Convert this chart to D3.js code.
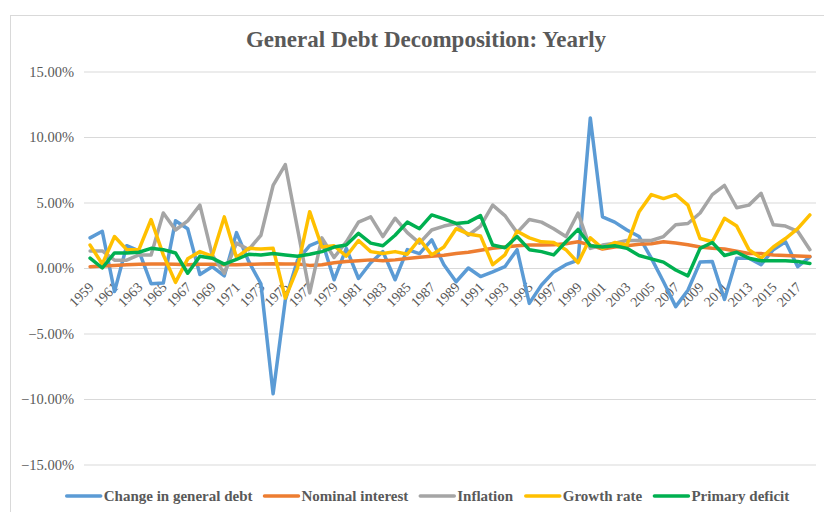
<!DOCTYPE html>
<html>
<head>
<meta charset="utf-8">
<script src="https://cdn.jsdelivr.net/npm/d3@7/dist/d3.min.js"></script>
<style>
body { margin: 0; background: #fff; }
svg text { font-family: "Liberation Serif", "Times New Roman", serif; fill: #595959; }
</style>
</head>
<body>
<svg width="824" height="512"></svg>
<script>
var years = d3.range(1959, 2019);

// values in percent, 1959..2018
var changeDebt = [2.3, 2.8, -1.8, 1.7, 1.3, -1.2, -1.15, 3.6, 3.0, -0.5,
  0.1, -0.6, 2.7, 0.5, -1.2, -9.6, -2.45, 0.6, 1.7, 2.1,
  -0.9, 1.5, -0.8, 0.4, 1.25, -0.9, 1.4, 1.1, 2.15, 0.25,
  -1.05, 0.0, -0.65, -0.3, 0.1, 1.4, -2.7, -1.3, -0.3, 0.25,
  0.6, 11.45, 3.9, 3.5, 2.9, 2.4, 0.75, -1.05, -2.95, -1.7,
  0.45, 0.5, -2.4, 0.75, 0.75, 0.25, 1.4, 2.0, 0.1, 0.85];
var nominalInterest = [0.1, 0.15, 0.2, 0.25, 0.28, 0.3, 0.3, 0.28, 0.25, 0.28,
  0.28, 0.25, 0.25, 0.28, 0.3, 0.32, 0.3, 0.3, 0.2, 0.25,
  0.4, 0.5, 0.55, 0.62, 0.55, 0.62, 0.72, 0.82, 0.9, 0.98,
  1.1, 1.2, 1.35, 1.5, 1.6, 1.7, 1.75, 1.75, 1.78, 1.85,
  2.0, 1.75, 1.45, 1.6, 1.7, 1.82, 1.85, 2.0, 1.9, 1.78,
  1.6, 1.5, 1.45, 1.28, 1.1, 1.1, 1.0, 0.95, 0.92, 0.88];
var inflation = [1.3, 1.3, 0.6, 0.6, 1.0, 1.0, 4.2, 2.9, 3.6, 4.8,
  1.0, -0.4, 1.9, 1.4, 2.5, 6.3, 7.9, 3.0, -1.9, 2.3,
  0.8, 2.0, 3.5, 3.9, 2.4, 3.8, 2.7, 1.9, 2.9, 3.2,
  3.4, 2.5, 3.2, 4.8, 4.0, 2.7, 3.7, 3.5, 3.0, 2.4,
  4.2, 1.5, 1.75, 1.9, 2.1, 2.1, 2.1, 2.4, 3.3, 3.4,
  4.2, 5.6, 6.3, 4.6, 4.8, 5.7, 3.3, 3.2, 2.8, 1.4];
var growthRate = [1.75, 0.3, 2.4, 1.4, 1.4, 3.7, 1.0, -1.1, 0.7, 1.25,
  0.9, 3.9, 0.8, 1.5, 1.45, 1.5, -2.3, 0.0, 4.3, 1.6,
  1.7, 0.9, 2.1, 1.25, 1.1, 1.25, 1.05, 2.2, 1.0, 1.6,
  3.0, 2.6, 2.45, 0.25, 1.0, 2.8, 2.3, 2.0, 1.95, 1.4,
  0.4, 2.3, 1.5, 1.95, 1.75, 4.3, 5.6, 5.3, 5.6, 4.8,
  2.25, 2.0, 3.8, 3.2, 1.4, 0.75, 1.6, 2.25, 3.0, 4.05];
var primaryDeficit = [0.75, 0.0, 1.15, 1.15, 1.2, 1.5, 1.4, 1.15, -0.4, 0.9,
  0.75, 0.3, 0.65, 1.05, 1.0, 1.1, 1.0, 0.9, 1.05, 1.25,
  1.6, 1.75, 2.65, 1.9, 1.7, 2.5, 3.5, 3.0, 4.05, 3.75,
  3.4, 3.5, 4.0, 1.75, 1.55, 2.4, 1.4, 1.25, 1.0, 2.0,
  2.95, 1.7, 1.6, 1.7, 1.5, 0.95, 0.7, 0.45, -0.15, -0.6,
  1.5, 1.95, 0.95, 1.2, 0.75, 0.55, 0.55, 0.55, 0.5, 0.35];

var seriesNames = ["Change in general debt", "Nominal interest", "Inflation", "Growth rate", "Primary deficit"];
var seriesColors = ["#5b9bd5", "#ed7d31", "#a5a5a5", "#ffc000", "#00b050"];
var yTicks = [15, 10, 5, 0, -5, -10, -15];
var xLabels = years.filter(function(d) { return (d - 1959) % 2 === 0; });

var series = [changeDebt, nominalInterest, inflation, growthRate, primaryDeficit].map(function(v, i) {
  return { name: seriesNames[i], color: seriesColors[i], values: v };
});

var svg = d3.select("svg");

// chart frame
svg.append("rect")
    .attr("x", 10.5).attr("y", 15.5)
    .attr("width", 900).attr("height", 600)
    .attr("fill", "none").attr("stroke", "#d9d9d9");

var x = d3.scalePoint().domain(years).range([84, 816]).padding(0.5);
var y = d3.scaleLinear().domain([-15, 15]).range([464.5, 71.5]);

// gridlines + y labels
var yAxis = svg.append("g")
    .attr("transform", "translate(84,0)")
    .call(d3.axisLeft(y).tickValues(yTicks).tickSize(-732)
      .tickFormat(function(d) { return d3.format(".2f")(d) + "%"; }));
yAxis.select(".domain").remove();
yAxis.selectAll("line").attr("stroke", "#d9d9d9").attr("stroke-width", 1);
yAxis.selectAll("text")
    .attr("x", -10)
    .style("font-size", "14.5px")
    .attr("fill", "#595959");

// x labels
var xAxis = svg.append("g")
    .attr("transform", "translate(0," + y(0) + ")")
    .call(d3.axisBottom(x).tickValues(xLabels).tickSize(0));
xAxis.select(".domain").remove();
xAxis.selectAll("text")
    .attr("y", 0).attr("dy", 0)
    .attr("text-anchor", "end")
    .attr("transform", "translate(4,20) rotate(-45)")
    .style("font-size", "14px")
    .attr("fill", "#595959");

// lines
var line = d3.line()
    .x(function(d, i) { return x(years[i]); })
    .y(function(d) { return y(d); });

svg.append("g").selectAll("path")
  .data(series)
  .enter().append("path")
    .attr("d", function(d) { return line(d.values); })
    .attr("fill", "none")
    .attr("stroke", function(d) { return d.color; })
    .attr("stroke-width", 3.5)
    .attr("stroke-linejoin", "round")
    .attr("stroke-linecap", "round");

// title
svg.append("text")
    .attr("x", 426).attr("y", 47)
    .attr("text-anchor", "middle")
    .style("font-size", "23px")
    .style("font-weight", "bold")
    .text("General Debt Decomposition: Yearly");

// legend
var legend = svg.append("g").attr("transform", "translate(0,496)");
var items = legend.selectAll("g")
  .data(series)
  .enter().append("g");
items.append("line")
    .attr("x1", 0).attr("x2", 34)
    .attr("stroke", function(d) { return d.color; })
    .attr("stroke-width", 3.5)
    .attr("stroke-linecap", "round");
items.append("text")
    .attr("x", 37).attr("dy", "0.35em")
    .style("font-size", "15px")
    .style("font-weight", "bold")
    .text(function(d) { return d.name; });

var widths = [];
items.each(function() { widths.push(this.getBBox().width); });
var gap = 12;
var total = d3.sum(widths) + gap * (widths.length - 1);
var pos = 428 - total / 2;
items.attr("transform", function(d, i) {
  var t = "translate(" + pos + ",0)";
  pos += widths[i] + gap;
  return t;
});
</script>
</body>
</html>
